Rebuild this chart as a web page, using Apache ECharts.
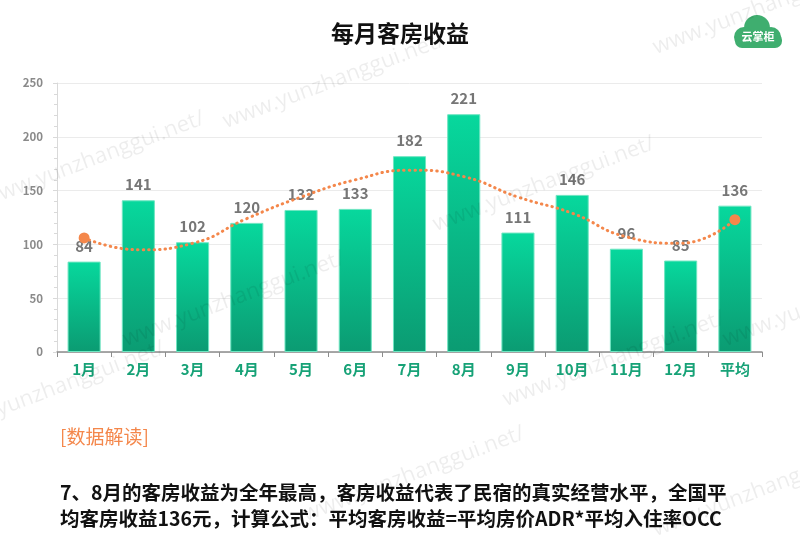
<!DOCTYPE html>
<html><head><meta charset="utf-8">
<script src="https://cdn.jsdelivr.net/npm/echarts@6/dist/echarts.min.js"></script>
<style>html,body{margin:0;padding:0;background:#fff}#c{width:800px;height:537px}</style>
</head><body><div id="c"></div>
<script>
const categories = ['1月','2月','3月','4月','5月','6月','7月','8月','9月','10月','11月','12月','平均'];
const revenue = [84,141,102,120,132,133,182,221,111,146,96,85,136];
const trend = [106,95,101,124,144,160,169,163,144,129,107,101,123];
const yTicks = {min:0, max:250, interval:50};

const chart = echarts.init(document.getElementById('c'));
const F = '"Noto Sans CJK SC","Noto Sans",sans-serif';
const wm = [];
const wmPos = [[220,112],[650,38],[-20,190],[430,215],[850,140],[120,330],[500,390],[-60,420],[300,505],[720,330],[650,520]];
wmPos.forEach(p => wm.push({type:'text', x:p[0], y:p[1], rotation:0.36, z:100, silent:true,
  style:{text:'www.yunzhanggui.net/', font:'22px "Open Sans",sans-serif', fill:'rgba(0,0,0,0.07)'}}));

chart.setOption({
  animation:false,
  title:{text:'每月客房收益', left:'center', top:17, textStyle:{fontFamily:F, fontSize:23, fontWeight:'bold', color:'#111'}},
  grid:{left:57, right:38, top:83, bottom:185},
  xAxis:{type:'category', data:categories,
    axisLine:{lineStyle:{color:'#8c8c8c', width:1.5}},
    axisTick:{show:true, length:5, lineStyle:{color:'#8c8c8c'}},
    axisLabel:{color:'#17a277', fontFamily:F, fontSize:15, fontWeight:'bold', margin:10}},
  yAxis:{type:'value', min:yTicks.min, max:yTicks.max, interval:yTicks.interval,
    axisLine:{show:true, lineStyle:{color:'#d9d9d9'}},
    axisTick:{show:true, length:4, lineStyle:{color:'#d9d9d9'}},
    minorTick:{show:true, splitNumber:5, length:3, lineStyle:{color:'#d9d9d9'}},
    splitLine:{lineStyle:{color:'#ebebeb'}},
    axisLabel:{color:'#8a8a8a', fontFamily:F, fontSize:11.5, fontWeight:'bold', margin:14}},
  series:[
    {type:'bar', data:revenue, barCategoryGap:'39%',
     itemStyle:{borderColor:'#6fe6c2', borderWidth:1,
       color:new echarts.graphic.LinearGradient(0,0,0,1,[{offset:0,color:'#07d89d'},{offset:1,color:'#0b9b72'}])},
     label:{show:true, position:'top', distance:8, color:'#767676', fontFamily:F, fontSize:15, fontWeight:'bold'}},
    {type:'line', smooth:0.5, z:5,
     data:trend.map((v,i)=> (i===0||i===trend.length-1) ? {value:v, symbol:'circle', symbolSize:11} : {value:v, symbol:'none'}),
     showAllSymbol:true,
     lineStyle:{color:'#f4874b', width:3, type:[0.5,5], cap:'round'},
     itemStyle:{color:'#f4874b'}}
  ],
  graphic:[
    ...wm,
    {type:'group', left:734, top:15, children:[
      {type:'circle', shape:{cx:24, cy:13, r:13}, style:{fill:'#3fae6f'}},
      {type:'circle', shape:{cx:11, cy:22, r:10}, style:{fill:'#3fae6f'}},
      {type:'circle', shape:{cx:38, cy:22, r:10}, style:{fill:'#3fae6f'}},
      {type:'rect', shape:{x:2, y:18, width:47, height:15, r:7}, style:{fill:'#3fae6f'}},
      {type:'text', x:25, y:22, style:{text:'云掌柜', fill:'#fff', font:'bold 11px '+F, textAlign:'center', textVerticalAlign:'middle'}}
    ]},
    {type:'text', left:60, top:427, style:{text:'[数据解读]', fill:'#f4874b', font:'19px '+F}},
    {type:'text', left:60, top:480, style:{text:'7、8月的客房收益为全年最高，客房收益代表了民宿的真实经营水平，全国平\n均客房收益136元，计算公式：平均客房收益=平均房价ADR*平均入住率OCC', fill:'#111', font:'bold 19.5px '+F, lineHeight:26}}
  ]
});
</script></body></html>
